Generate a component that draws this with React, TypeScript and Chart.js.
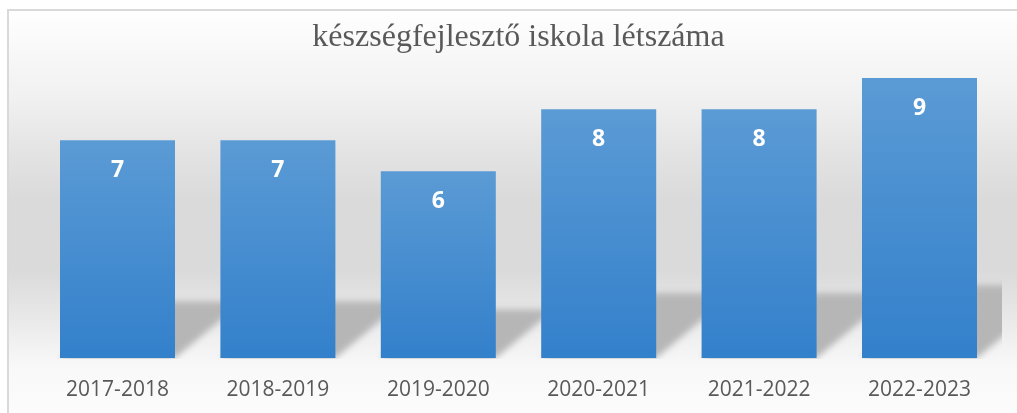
import React, { useEffect, useRef } from "react";
import { Chart, registerables } from "chart.js";

Chart.register(...registerables);

const TITLE = "készségfejlesztő iskola létszáma";
const categories = ["2017-2018", "2018-2019", "2019-2020", "2020-2021", "2021-2022", "2022-2023"];
const values = [7, 7, 6, 8, 8, 9];

const W = 1017;
const H = 413;

const backgroundPlugin = {
  id: "bgPlugin",
  beforeDraw(chart: any) {
    const ctx = chart.ctx;
    ctx.save();
    ctx.fillStyle = "#ffffff";
    ctx.fillRect(0, 0, W, H);
    const g = ctx.createLinearGradient(0, 9, 0, H);
    const stops: [number, string][] = [
      [9, "#ffffff"],
      [40, "#fafafa"],
      [100, "#f0f0f0"],
      [150, "#e4e4e4"],
      [200, "#dadada"],
      [270, "#dadada"],
      [310, "#e6e6e6"],
      [340, "#f0f0f0"],
      [365, "#f8f8f8"],
      [413, "#fcfcfc"],
    ];
    stops.forEach(([y, c]) => g.addColorStop((y - 9) / (H - 9), c));
    ctx.fillStyle = g;
    ctx.fillRect(7, 9, W - 7, H - 9);
    ctx.strokeStyle = "#d9d9d9";
    ctx.lineWidth = 2;
    ctx.beginPath();
    ctx.moveTo(8, H);
    ctx.lineTo(8, 10);
    ctx.lineTo(W, 10);
    ctx.stroke();
    ctx.restore();
  },
};

const shadowPlugin = {
  id: "shadowPlugin",
  beforeDatasetsDraw(chart: any) {
    const ctx = chart.ctx;
    const meta = chart.getDatasetMeta(0);
    ctx.save();
    ctx.beginPath();
    ctx.rect(0, 0, 1002, chart.chartArea.bottom + 1);
    ctx.clip();
    ctx.filter = "blur(3px)";
    ctx.fillStyle = "#b6b6b6";
    meta.data.forEach((bar: any) => {
      const base = bar.base;
      const h = base - bar.y;
      const sh = 0.26 * h;
      const off = 1.2 * sh;
      const left = bar.x - bar.width / 2;
      const right = bar.x + bar.width / 2;
      ctx.beginPath();
      ctx.moveTo(left, base);
      ctx.lineTo(right, base);
      ctx.lineTo(right + off, base - sh);
      ctx.lineTo(left + off, base - sh);
      ctx.closePath();
      ctx.fill();
    });
    ctx.restore();
  },
};

const labelPlugin = {
  id: "labelPlugin",
  afterDatasetsDraw(chart: any) {
    const ctx = chart.ctx;
    const meta = chart.getDatasetMeta(0);
    ctx.save();
    ctx.fillStyle = "#ffffff";
    ctx.font = "bold 23px 'Open Sans'";
    ctx.textAlign = "center";
    ctx.textBaseline = "middle";
    meta.data.forEach((bar: any, i: number) => {
      ctx.fillText(String(values[i]), bar.x, bar.y + 30);
    });
    ctx.restore();
  },
};

export default function App() {
  const ref = useRef<HTMLCanvasElement>(null);

  useEffect(() => {
    if (!ref.current) return;
    const chart = new Chart(ref.current, {
      type: "bar",
      data: {
        labels: categories,
        datasets: [
          {
            data: values,
            borderWidth: 0,
            categoryPercentage: 1,
            barPercentage: 0.717,
            backgroundColor: (context: any) => {
              const chart = context.chart;
              const ca = chart.chartArea;
              const ys = chart.scales && chart.scales.y;
              if (!ca || !ys || context.dataIndex === undefined) return "#4a8fd3";
              const v = values[context.dataIndex];
              const top = ys.getPixelForValue(v);
              const bottom = ys.getPixelForValue(0);
              const g = chart.ctx.createLinearGradient(0, top, 0, bottom);
              g.addColorStop(0, "#5b9bd5");
              g.addColorStop(1, "#3380cb");
              return g;
            },
          },
        ],
      },
      options: {
        responsive: false,
        animation: false,
        layout: { padding: { left: 37.3, right: 17.3, top: 0, bottom: -0.2 } },
        plugins: {
          legend: { display: false },
          tooltip: { enabled: false },
          title: {
            display: true,
            text: TITLE,
            fullSize: false,
            color: "#595959",
            font: { family: "'Liberation Serif'", size: 32, weight: "normal", lineHeight: 1 },
            padding: { top: 22, bottom: 8.5 },
          },
        },
        scales: {
          x: {
            grid: { display: false },
            border: { display: false },
            ticks: {
              color: "#595959",
              font: { family: "'Open Sans'", size: 21 },
              padding: 11,
            },
          },
          y: { display: false, min: 0, max: 9.5 },
        },
      },
      plugins: [backgroundPlugin, shadowPlugin, labelPlugin],
    });
    return () => chart.destroy();
  }, []);

  return (
    <div style={{ position: "fixed", left: 0, top: 0, width: W, height: H }}>
      <canvas ref={ref} width={W} height={H} style={{ display: "block" }} />
    </div>
  );
}
